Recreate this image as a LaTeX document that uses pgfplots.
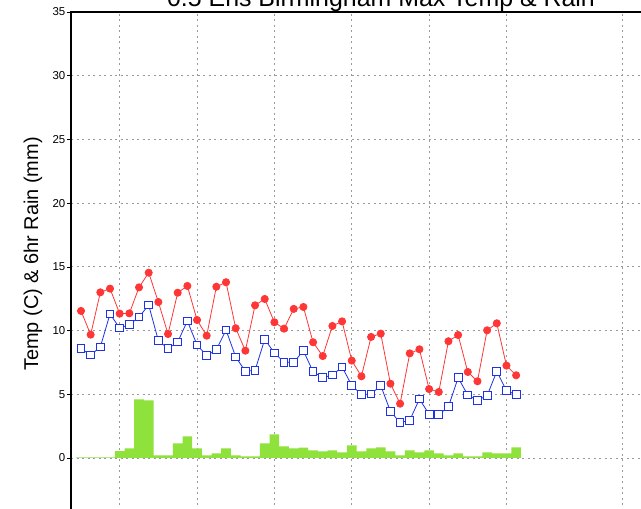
\documentclass[border=0pt]{standalone}
\usepackage{pgfplots}
\pgfplotsset{compat=1.18}
\usepackage{fontspec}
\setmainfont{Liberation Sans}
\definecolor{tred}{HTML}{FF3636}
\definecolor{tblue}{HTML}{1E32E6}
\definecolor{rgreen}{HTML}{8FE13B}
\definecolor{gridg}{HTML}{9A9A9A}
\pgfplotstableread{
i tmax tmin rain
0 11.54 8.58 0.05
1 9.68 8.08 0.05
2 13.00 8.71 0.05
3 13.29 11.30 0.05
4 11.33 10.20 0.53
5 11.35 10.46 0.76
6 13.39 11.06 4.60
7 14.54 12.00 4.53
8 12.24 9.21 0.21
9 9.73 8.58 0.21
10 12.97 9.10 1.15
11 13.50 10.75 1.70
12 10.83 8.87 0.76
13 9.60 8.03 0.21
14 13.44 8.50 0.37
15 13.79 10.04 0.76
16 10.18 7.93 0.21
17 8.42 6.80 0.13
18 11.98 6.88 0.13
19 12.48 9.31 1.15
20 10.65 8.24 1.86
21 10.15 7.51 0.92
22 11.70 7.50 0.75
23 11.85 8.42 0.81
24 9.08 6.77 0.60
25 8.00 6.30 0.52
26 10.36 6.51 0.60
27 10.72 7.14 0.44
28 7.64 5.70 0.99
29 6.41 4.97 0.52
30 9.50 5.02 0.76
31 9.76 5.68 0.84
32 5.83 3.66 0.52
33 4.26 2.77 0.21
34 8.21 2.96 0.60
35 8.53 4.63 0.44
36 5.41 3.43 0.60
37 5.18 3.40 0.37
38 9.16 4.03 0.21
39 9.65 6.30 0.37
40 6.75 4.94 0.13
41 6.02 4.53 0.13
42 10.02 4.89 0.44
43 10.57 6.80 0.37
44 7.25 5.28 0.37
45 6.49 4.97 0.84
}\datatable
\begin{document}
\begin{tikzpicture}[x=1bp,y=1bp]
\useasboundingbox (0,0) rectangle (641,509);
\clip (0,0) rectangle (641,509);
\begin{axis}[
  at={(71bp,-12.7bp)}, anchor=south west,
  scale only axis, width=589bp, height=509.7bp,
  xmin=-1.034, xmax=59.88, ymin=-5, ymax=35,
  ytick={0,5,...,35},
  xtick={4,12,20,28,36,44,56}, xticklabels={},
  xtick style={draw=none},
  ytick pos=left,
  tick align=outside,
  major tick length=4bp,
  ytick style={black, line width=0.6bp},
  grid=major,
  grid style={gridg, dash pattern=on 2bp off 3.5bp, line width=0.8bp},
  axis line style={line width=1.8bp, black},
  yticklabel style={font=\fontsize{11.5}{11.5}\selectfont, inner sep=1.5bp},
  /pgf/number format/assume math mode=true,
]
\addplot[ybar, bar width=1, bar shift=0, fill=rgreen, draw=none] table[x=i, y=rain] {\datatable};
\addplot[tblue, line width=0.8bp, mark=square*, mark size=3.9bp, mark options={solid, fill=white, draw=tblue, line width=1bp}] table[x=i, y=tmin] {\datatable};
\addplot[tred, line width=0.8bp, mark=*, mark size=3.6bp, mark options={fill=tred, draw=tred}] table[x=i, y=tmax] {\datatable};
\end{axis}
\node[rotate=90, font=\fontsize{20}{20}\selectfont] at (33,255) {Temp (C) \& 6hr Rain (mm)};
\node[anchor=base, font=\fontsize{25}{25}\selectfont] at (381,502) {0.5 Ens Birmingham Max Temp \& Rain};
\end{tikzpicture}
\end{document}
